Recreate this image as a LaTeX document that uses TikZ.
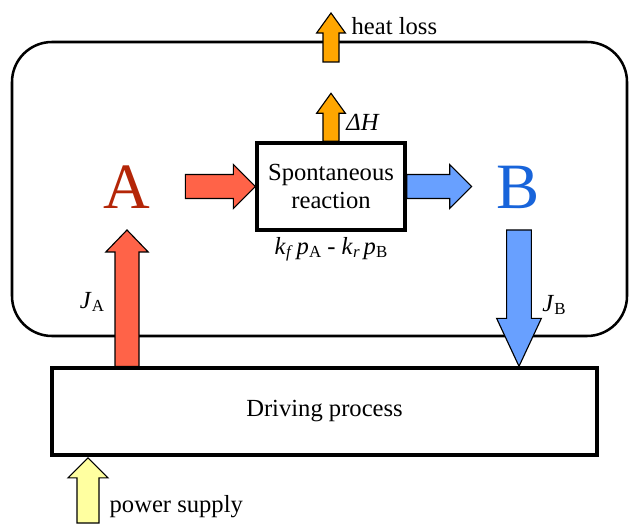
\documentclass[tikz,border=0pt]{standalone}
\usepackage{fontspec}
\setmainfont{Liberation Serif}
\usepackage{tikz}
\usepackage{xcolor}
\usetikzlibrary{calc, positioning}
\definecolor{speciesA}{RGB}{180,38,8}
\definecolor{speciesB}{RGB}{24,100,218}
\definecolor{fluxA}{RGB}{255,99,72}
\definecolor{fluxB}{RGB}{104,160,255}
\definecolor{heat}{RGB}{255,166,0}
\definecolor{power}{RGB}{255,255,160}
\tikzstyle{stage} = [rectangle, 
draw=black, 
line width=2.4pt, 
minimum height=2.175cm, text centered, 
font=\fontsize{17.5}{20}\selectfont]
\tikzstyle{note} = [font=\fontsize{17.5}{20}\selectfont, inner sep=1pt]
\tikzstyle{species} = [font=\fontsize{46}{46}\selectfont, inner sep=0pt]
\newcommand{\lowidx}[1]{\raisebox{-0.3ex}{\fontsize{12}{12}\selectfont #1}}
% block arrow: from, to, fill, shaft half width, head half width, head length
\newcommand{\fatarrow}[6]{%
  \path ($(#2)!#6!(#1)$) coordinate (fat-neck);
  \draw[fill=#3, line width=0.8pt, line join=miter]
    ($(#1)!#4!90:(#2)$) -- ($(fat-neck)!#4!90:(#2)$) -- ($(fat-neck)!#5!90:(#2)$) -- (#2)
    -- ($(fat-neck)!#5!-90:(#2)$) -- ($(fat-neck)!#4!-90:(#2)$) -- ($(#1)!#4!-90:(#2)$) -- cycle;
}

\begin{document}
\begin{tikzpicture}[scale=1]
        \useasboundingbox (0,0) rectangle (15.8,13.075);
        \node[draw, line width=1.8pt, rounded corners=1cm, minimum width=15.375cm, minimum height=7.35cm] (cell) at (7.9875,8.35) {};
        \node[stage, minimum width=3.7cm, align=center] (react) at (8.275,8.4125) {Spontaneous\\reaction};
        \node[stage, minimum width=13.625cm] (drive) at (8.1125,2.7875) {Driving process};
        \node[species, text=speciesA] (A) at (3.175,8.4) {A};
        \node[species, text=speciesB] (B) at (12.95,8.4) {B};
        % ends of the flux arrows
        \coordinate[left=1.75cm of react.west] (a-out);
        \coordinate[right=1.625cm of react.east] (b-in);
        \coordinate[above=1.2cm of react.north] (dh-tip);
        \coordinate (hl-foot) at (8.275,11.525);
        \coordinate (hl-tip) at (8.275,12.75);
        \coordinate (ja-tip) at (3.175,7.325);
        \coordinate (ja-foot) at (ja-tip |- drive.north);
        \coordinate (jb-top) at (12.975,7.325);
        \coordinate (jb-tip) at (jb-top |- drive.north);
        \coordinate (ps-foot) at (2.2,0);
        \coordinate (ps-tip) at ($(ps-foot |- drive.south)+(0,-0.03)$);
        \fatarrow{a-out}{react.west}{fluxA}{0.3cm}{0.55cm}{0.55cm}
        \fatarrow{react.east}{b-in}{fluxB}{0.3cm}{0.55cm}{0.55cm}
        \fatarrow{react.north}{dh-tip}{heat}{0.2cm}{0.36cm}{0.5cm}
        \fatarrow{hl-foot}{hl-tip}{heat}{0.2cm}{0.36cm}{0.5cm}
        \fatarrow{ja-foot}{ja-tip}{fluxA}{0.3cm}{0.53cm}{0.55cm}
        \fatarrow{jb-top}{jb-tip}{fluxB}{0.31cm}{0.56cm}{1.2cm}
        \fatarrow{ps-foot}{ps-tip}{power}{0.275cm}{0.5cm}{0.5cm}
        % labels
        \node[note, anchor=west] (hl-text) at (8.75,12.425) {heat loss};
        \node[note, anchor=west] (dh-text) at (8.62,10.025) {\textit{ΔH}};
        \node[note, below=0.1cm of react] (rate) {\textit{k}\lowidx{\textit{f}}\,\textit{p}\lowidx{A} - \textit{k}\lowidx{\textit{r}}\,\textit{p}\lowidx{B}};
        \node[note] (ja-text) at (2.3,5.525) {\textit{J}\lowidx{A}};
        \node[note] (jb-text) at (13.85,5.45) {\textit{J}\lowidx{B}};
        \node[note, anchor=west] (ps-text) at (2.7,0.4) {power supply};
    \end{tikzpicture}
\end{document}
